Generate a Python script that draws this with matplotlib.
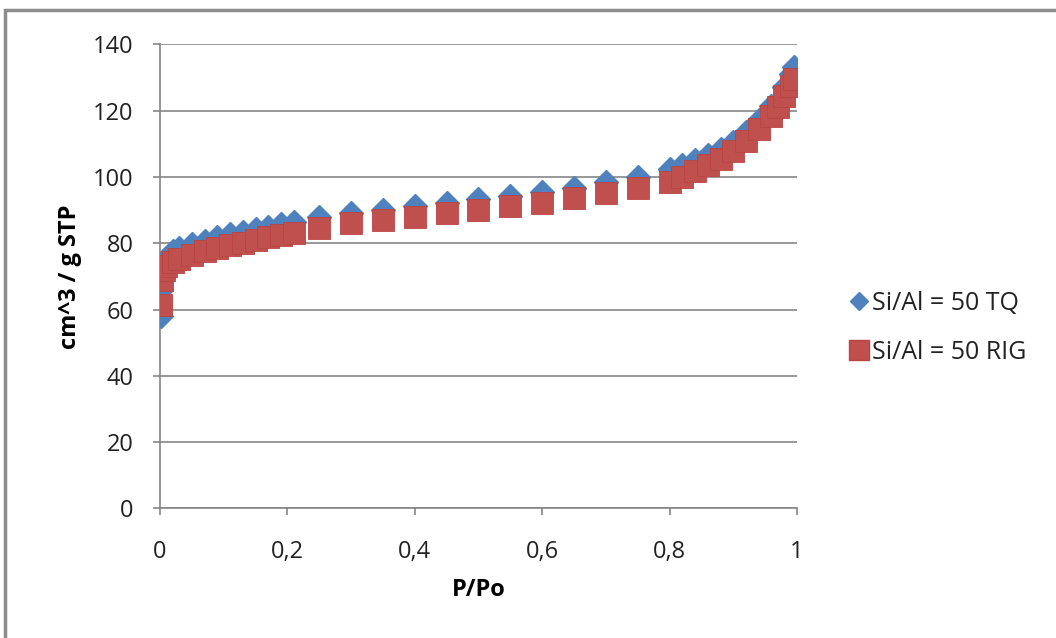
import matplotlib.pyplot as plt
import matplotlib.patches as mpatches
from matplotlib.ticker import FuncFormatter

# adsorption isotherm, Si/Al = 50 TQ (blue diamonds)
p_tq = [0.001, 0.002, 0.005, 0.01, 0.02, 0.03, 0.05, 0.07, 0.09, 0.11, 0.13, 0.15,
        0.17, 0.19, 0.21, 0.25, 0.30, 0.35, 0.40, 0.45, 0.50, 0.55, 0.60, 0.65,
        0.70, 0.75, 0.80, 0.82, 0.84, 0.86, 0.88, 0.90, 0.92, 0.94, 0.96, 0.98,
        0.99, 0.995]
v_tq = [58.0, 66.0, 72.0, 75.5, 77.5, 78.5, 79.8, 80.8, 81.8, 82.8, 83.5, 84.2,
        85.0, 85.8, 86.5, 87.8, 89.2, 90.0, 91.2, 92.2, 93.3, 94.3, 95.3, 96.5,
        98.5, 100.0, 102.5, 103.5, 105.0, 106.5, 108.5, 110.5, 113.5, 117.0,
        121.5, 127.0, 131.0, 133.0]

# adsorption isotherm, Si/Al = 50 RIG (red squares)
p_rig = [0.001, 0.003, 0.006, 0.01, 0.02, 0.03, 0.05, 0.07, 0.09, 0.11, 0.13, 0.15,
         0.17, 0.19, 0.21, 0.25, 0.30, 0.35, 0.40, 0.45, 0.50, 0.55, 0.60, 0.65,
         0.70, 0.75, 0.80, 0.82, 0.84, 0.86, 0.88, 0.90, 0.92, 0.94, 0.96, 0.97,
         0.98, 0.99, 0.995]
v_rig = [61.5, 69.0, 72.0, 73.0, 74.3, 75.3, 76.5, 77.5, 78.5, 79.4, 80.2, 81.0,
         81.8, 82.5, 83.2, 84.7, 86.1, 87.0, 88.0, 89.2, 90.1, 91.3, 92.1, 93.5,
         95.2, 96.6, 98.6, 100.0, 101.8, 103.5, 105.5, 107.8, 110.8, 114.5,
         118.5, 121.0, 124.5, 127.5, 129.5]

labels = ['Si/Al = 50 TQ', 'Si/Al = 50 RIG']
blue = '#4F81BD'
red = '#C0504D'
grid_col = '#868686'

plt.rcParams['font.family'] = ['Open Sans', 'DejaVu Sans']

fig = plt.figure(figsize=(10.56, 6.38), dpi=100)
ax = fig.add_axes([0.1515, 0.203, 0.6032, 0.7277])

ax.plot(p_tq, v_tq, linestyle='none', marker='D', markersize=12,
        color=blue, markeredgecolor=blue, label=labels[0], zorder=3)
ax.plot(p_rig, v_rig, linestyle='none', marker='s', markersize=16.5,
        color=red, markeredgecolor='#B94441', markeredgewidth=0.6,
        label=labels[1], zorder=4)

ax.set_xlim(0, 1)
ax.set_ylim(0, 140)
ax.set_xticks([0, 0.2, 0.4, 0.6, 0.8, 1.0])
ax.set_yticks(range(0, 141, 20))
ax.xaxis.set_major_formatter(FuncFormatter(lambda v, _: f'{v:g}'.replace('.', ',')))
ax.yaxis.grid(True, color=grid_col, linewidth=1.2)
ax.set_axisbelow(True)
for side in ['top', 'right']:
    ax.spines[side].set_visible(False)
for side in ['left', 'bottom']:
    ax.spines[side].set_color(grid_col)
    ax.spines[side].set_linewidth(1.2)
ax.spines['left'].set_zorder(2)
ax.tick_params(axis='both', colors=grid_col, length=5, width=1.2,
               labelsize=17, labelcolor='#222222')
ax.tick_params(axis='x', pad=18)
ax.tick_params(axis='y', pad=14)
for lab in ax.get_xticklabels() + ax.get_yticklabels():
    lab.set_clip_on(False)

ax.set_xlabel('P/Po', fontsize=17, fontweight='bold', labelpad=10)
ax.set_ylabel('cm^3 / g STP', fontsize=17, fontweight='bold', labelpad=8)

handles = [
    plt.Line2D([0], [0], linestyle='none', marker='D', markersize=9,
               color=blue, markeredgecolor=blue),
    plt.Line2D([0], [0], linestyle='none', marker='s', markersize=14,
               color=red, markeredgecolor='#B94441'),
]
fig.legend(handles, labels, loc='center left', bbox_to_anchor=(849 / 1056, 0.486),
           frameon=False, fontsize=18, handletextpad=0.12, handlelength=0.8,
           labelspacing=0.95, borderaxespad=0, borderpad=0,
           labelcolor='#222222')

# grey chart-area frame
fig.patches.append(mpatches.Rectangle((5 / 1056, -0.1), 1.2, (638 - 10) / 638 + 0.1,
                                      transform=fig.transFigure, fill=False,
                                      edgecolor='#8C8C8C', linewidth=2.5))

plt.savefig('out.png', dpi=100)
